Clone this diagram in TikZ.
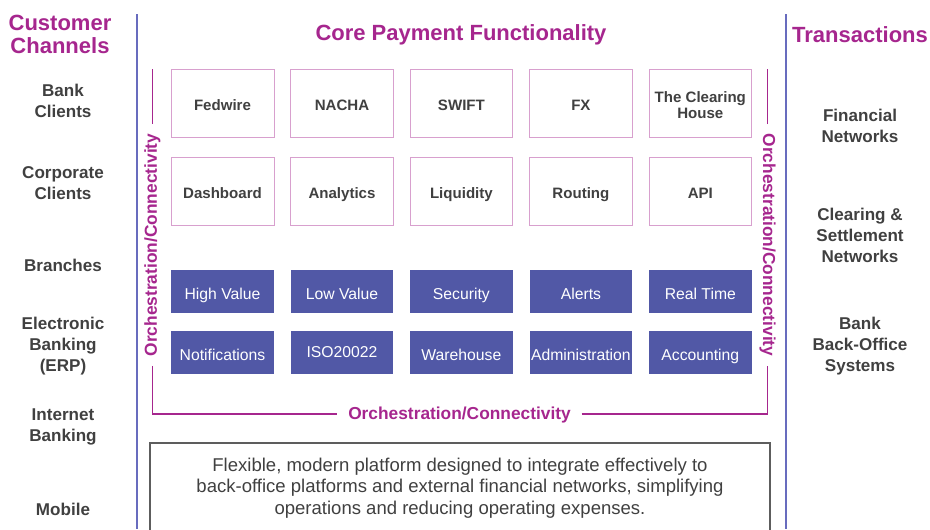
\documentclass[tikz,border=0pt]{standalone}
\usepackage{fontspec}
\setmainfont{Liberation Sans}
\definecolor{plum}{RGB}{166,38,142}
\definecolor{rule}{RGB}{104,108,190}
\definecolor{tile}{RGB}{81,88,166}
\definecolor{edge}{RGB}{216,160,206}
\definecolor{ink}{RGB}{64,64,64}
\tikzset{
  heading/.style={
    text=plum,
    font=\fontsize{16.5}{17.2}\selectfont\bfseries,
    align=center
  },
  channel/.style={
    text=ink,
    font=\fontsize{12.8}{15.7}\selectfont\bfseries,
    align=center
  },
  module/.style={
    draw=edge,
    text=ink,
    font=\fontsize{11.3}{12}\selectfont\bfseries,
    minimum width=77pt,
    minimum height=51pt,
    text height=11.2pt,
    text depth=0pt,
    inner sep=1pt
  },
  service/.style={
    fill=tile,
    text=white,
    font=\fontsize{11.8}{12}\selectfont,
    minimum width=77pt,
    minimum height=32pt,
    text height=11.6pt,
    text depth=0pt,
    inner sep=1pt
  },
  orch/.style={
    text=plum,
    font=\fontsize{13}{14}\selectfont\bfseries,
    inner sep=7pt
  }
}
\begin{document}
\begin{tikzpicture}[x=0.75pt,y=-0.75pt]
\useasboundingbox[fill=white] (0,0) rectangle (930,529);
% column headings
\node[heading] (customer) at (60,34) {Customer\\Channels};
\node[heading] (core) at (461,35) {Core Payment Functionality};
\node[heading] (transactions) at (860,35) {Transactions};
\draw[rule,line width=1pt] (137,14) -- (137,529);
\draw[rule,line width=1pt] (786,14) -- (786,529);
% channels
\foreach \name/\y/\txt in {%
  bank/101/Bank\\Clients,
  corporate/183/Corporate\\Clients,
  branches/265/Branches,
  erp/346/Electronic\\Banking\\(ERP),
  internet/427/Internet\\Banking,
  mobile/509/Mobile%
} {
  \node[channel] (\name) at (63,\y) {\txt};
}
% transactions
\foreach \name/\y/\txt in {%
  networks/126/Financial\\Networks,
  clearing/235/Clearing \&\\Settlement\\Networks,
  backoffice/346/Bank\\Back-Office\\Systems%
} {
  \node[channel] (\name) at (860,\y) {\txt};
}
% modules
\foreach \name/\x/\y/\txt in {%
  fedwire/222.5/103/Fedwire,
  nacha/342/103/NACHA,
  swift/461.4/103/SWIFT,
  fx/580.9/103/FX,
  dashboard/222.5/191/Dashboard,
  analytics/342/191/Analytics,
  liquidity/461.4/191/Liquidity,
  routing/580.9/191/Routing,
  api/700.3/191/API%
} {
  \node[module] (\name) at (\x,\y) {\txt};
}
\node[module] (tch) at (700.3,103) {\raisebox{-0.2pt}[0pt][0pt]{\begin{tabular}{@{}c@{}}The Clearing\\House\end{tabular}}};
\foreach \name/\x/\y/\txt in {%
  highvalue/222.5/291.3/High Value,
  lowvalue/342/291.3/Low Value,
  security/461.4/291.3/Security,
  alerts/580.9/291.3/Alerts,
  realtime/700.3/291.3/Real Time,
  notifications/222.5/352.3/Notifications,
  warehouse/461.4/352.3/Warehouse,
  admin/580.9/352.3/Administration,
  accounting/700.3/352.3/Accounting%
} {
  \node[service] (\name) at (\x,\y) {\txt};
}
\node[service,text height=9pt,text depth=1.9pt] (iso) at (342,352.3) {ISO20022};
% orchestration bracket
\coordinate (lefttop) at (152.5,69);
\coordinate (leftfoot) at (152.5,414);
\coordinate (righttop) at (767.7,69);
\coordinate (rightfoot) at (767.7,414);
\node[orch,rotate=90] (orchleft) at (152.5,245) {Orchestration/Connectivity};
\node[orch,rotate=-90] (orchright) at (767.7,245) {Orchestration/Connectivity};
\node[orch,inner sep=8pt] (orchbottom) at (459.5,415.5) {Orchestration/Connectivity};
\draw[plum,line width=1pt] (lefttop) -- (orchleft.east);
\draw[plum,line width=1pt] (orchleft.west) -- (leftfoot) -- (leftfoot -| orchbottom.west);
\draw[plum,line width=1pt] (rightfoot -| orchbottom.east) -- (rightfoot) -- (orchright.east);
\draw[plum,line width=1pt] (orchright.west) -- (righttop);
% summary
\draw[ink!85,line width=1pt] (150,535) -- (150,443) -- (770,443) -- (770,535);
\node[text=ink,font=\fontsize{13.9}{16.2}\selectfont,align=center] (summary) at (460,488)
  {Flexible, modern platform designed to integrate effectively to\\
   back-office platforms and external financial networks, simplifying\\
   operations and reducing operating expenses.};
\end{tikzpicture}
\end{document}
